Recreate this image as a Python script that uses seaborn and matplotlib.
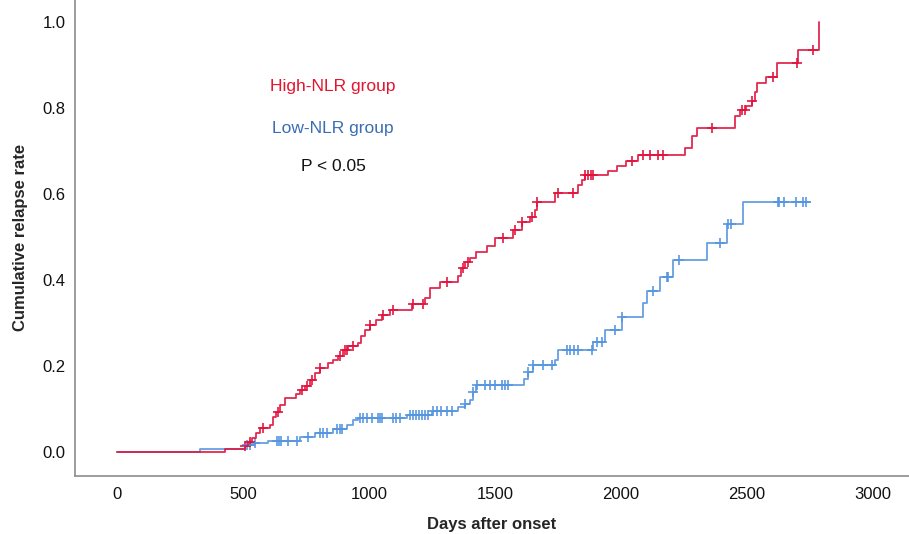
'''
Cumulative relapse curves (Kaplan-Meier style) for the high- and low-NLR groups,
with censored patients marked on each curve.
'''

import numpy as np
import pandas as pd
import matplotlib
matplotlib.use("Agg")
import matplotlib.pyplot as plt
import seaborn as sns

#######################################################
### Data

# High-NLR group: event days and cumulative relapse rate after each event
high_days = [0, 429, 508, 520, 536, 552, 567, 607, 619, 631, 647, 667, 710, 726,
             746, 766, 786, 806, 837, 857, 877, 897, 917, 956, 968, 984, 1004,
             1028, 1052, 1083, 1171, 1222, 1242, 1282, 1353, 1365, 1381, 1401,
             1425, 1468, 1500, 1571, 1607, 1639, 1659, 1667, 1738, 1829, 1845,
             1857, 1948, 1984, 2020, 2067, 2254, 2282, 2302, 2452, 2472, 2496,
             2520, 2532, 2540, 2575, 2619, 2702, 2786]
high_rate = [0.0, 0.006, 0.014, 0.023, 0.033, 0.044, 0.056, 0.063, 0.081, 0.093,
             0.109, 0.126, 0.135, 0.144, 0.153, 0.167, 0.184, 0.195, 0.207, 0.214,
             0.223, 0.237, 0.247, 0.253, 0.270, 0.284, 0.295, 0.307, 0.319, 0.330,
             0.344, 0.358, 0.381, 0.395, 0.409, 0.428, 0.442, 0.451, 0.465, 0.479,
             0.498, 0.516, 0.535, 0.547, 0.563, 0.581, 0.602, 0.621, 0.633, 0.644,
             0.653, 0.665, 0.677, 0.691, 0.707, 0.735, 0.753, 0.781, 0.795, 0.805,
             0.816, 0.837, 0.858, 0.872, 0.905, 0.935, 1.0]
high_censored = [508, 528, 579, 639, 734, 754, 774, 806, 885, 905, 913, 937, 1004,
                 1056, 1095, 1175, 1214, 1310, 1373, 1393, 1532, 1579, 1607, 1647,
                 1667, 1750, 1810, 1857, 1869, 1881, 1889, 2044, 2087, 2115, 2147,
                 2167, 2361, 2480, 2492, 2520, 2603, 2698, 2762]

# Low-NLR group
low_days = [0, 329, 508, 548, 599, 726, 786, 857, 913, 937, 956, 1151, 1250,
            1353, 1381, 1401, 1413, 1425, 1615, 1631, 1651, 1738, 1750, 1889,
            1937, 2004, 2087, 2103, 2155, 2206, 2341, 2421, 2484, 2750]
low_rate = [0.0, 0.007, 0.016, 0.021, 0.026, 0.035, 0.044, 0.053, 0.063, 0.074,
            0.079, 0.086, 0.095, 0.105, 0.112, 0.121, 0.140, 0.156, 0.170, 0.186,
            0.202, 0.214, 0.237, 0.256, 0.284, 0.314, 0.347, 0.374, 0.407, 0.447,
            0.486, 0.530, 0.581, 0.581]
low_censored = [516, 528, 548, 635, 643, 651, 679, 714, 758, 806, 817, 833, 873,
                885, 893, 964, 976, 992, 1012, 1036, 1044, 1052, 1095, 1107, 1123,
                1163, 1175, 1187, 1198, 1210, 1222, 1234, 1254, 1270, 1286, 1310,
                1329, 1381, 1413, 1429, 1460, 1480, 1500, 1528, 1540, 1552, 1631,
                1651, 1690, 1726, 1786, 1798, 1813, 1829, 1885, 1905, 1925, 1976,
                2004, 2127, 2183, 2187, 2230, 2393, 2425, 2437, 2623, 2627, 2647,
                2694, 2722, 2734]

HIGH_COLOR = "#E0123C"
LOW_COLOR = "#5596E0"

#######################################################
### Helpers

def rate_at(days, rate, t):

    # value of the step function right after time t
    idx = np.searchsorted(days, t, side="right") - 1

    return np.asarray(rate)[idx]


#######################################################
### Plot

sns.set_style("white")
plt.rcParams["font.family"] = ["Liberation Sans", "DejaVu Sans"]

fig = plt.figure(figsize=(9.09, 5.34), dpi=100)
ax = fig.add_axes([0.0825, 0.109, 0.9175, 0.891])

curves = [
    ("Low-NLR group", low_days, low_rate, low_censored, LOW_COLOR),
    ("High-NLR group", high_days, high_rate, high_censored, HIGH_COLOR),
]

for name, days, rate, cens, color in curves:

    df = pd.DataFrame({"day": days, "rate": rate})

    sns.lineplot(
        data=df,
        x="day",
        y="rate",
        drawstyle="steps-post",
        color=color,
        linewidth=1.3,
        alpha=0.9,
        estimator=None,
        sort=False,
        ax=ax
    )

    cens_df = pd.DataFrame({
        "day": cens,
        "rate": rate_at(days, rate, cens)
    })

    sns.scatterplot(
        data=cens_df,
        x="day",
        y="rate",
        marker="+",
        s=60,
        color=color,
        linewidth=1.3,
        alpha=0.9,
        ax=ax
    )

ax.set_xlim(-167, 3143)
ax.set_ylim(-0.056, 1.051)

ax.set_xticks([0, 500, 1000, 1500, 2000, 2500, 3000])
ax.set_yticks([0.0, 0.2, 0.4, 0.6, 0.8, 1.0])
ax.set_yticklabels(["0.0", "0.2", "0.4", "0.6", "0.8", "1.0"])

ax.tick_params(axis="both", length=0, labelsize=12, colors="#111111")
ax.tick_params(axis="x", pad=8)
ax.tick_params(axis="y", pad=7)

for side in ["top", "right"]:
    ax.spines[side].set_visible(False)

for side in ["left", "bottom"]:
    ax.spines[side].set_color("#8c8c8c")
    ax.spines[side].set_linewidth(1.2)

ax.set_xlabel("Days after onset", fontsize=12, fontweight="bold", labelpad=11)
ax.set_ylabel("Cumulative relapse rate", fontsize=12, fontweight="bold", labelpad=10)

ax.text(857, 0.849, "High-NLR group", color="#E3142D", fontsize=12.5,
        ha="center", va="center")
ax.text(857, 0.753, "Low-NLR group", color="#3B6DB3", fontsize=12.5,
        ha="center", va="center")
ax.text(857, 0.663, "P < 0.05", color="#111111", fontsize=12.5,
        ha="center", va="center")

fig.savefig("out.png", dpi=100)
